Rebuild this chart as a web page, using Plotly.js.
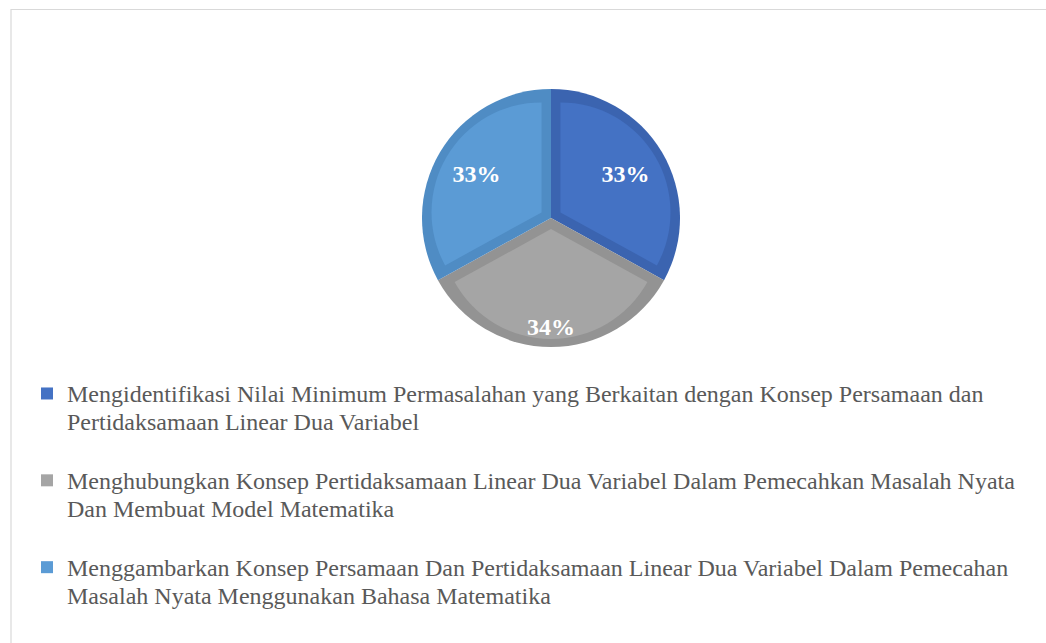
<!DOCTYPE html>
<html>
<head>
<meta charset="utf-8">
<script src="https://cdn.plot.ly/plotly-3.0.1.min.js"></script>
<style>html,body{margin:0;padding:0;background:#fff;}#chart{width:1046px;height:643px;}</style>
</head>
<body>
<div id="chart"></div>
<script>
const categoryLines = [
  ["Mengidentifikasi Nilai Minimum Permasalahan yang Berkaitan dengan Konsep Persamaan dan", "Pertidaksamaan Linear Dua Variabel"],
  ["Menghubungkan Konsep Pertidaksamaan Linear Dua Variabel Dalam Pemecahkan Masalah Nyata", "Dan Membuat Model Matematika"],
  ["Menggambarkan Konsep Persamaan Dan Pertidaksamaan Linear Dua Variabel Dalam Pemecahan", "Masalah Nyata Menggunakan Bahasa Matematika"]
];
const values = [33, 34, 33];
const fillColors = ["#4472C4", "#A5A5A5", "#5B9BD5"];
const edgeColors = ["#3B64B0", "#939393", "#4F8CC4"];

const categories = categoryLines.map(ls =>
  ls.map(l => "<span style='font-size:24px'>" + l + "</span>").join("<br>") + "<br> ");

const W = 1046, H = 643;
const cx = 551, cy = 218, R = 129;
function dom(r) {
  return {
    x: [(cx - r) / W, (cx + r) / W],
    y: [1 - (cy + r) / H, 1 - (cy - r) / H]
  };
}

const common = {
  type: 'pie',
  labels: categories,
  values: values,
  sort: false,
  direction: 'clockwise',
  rotation: 0,
  hoverinfo: 'none'
};

const clear = ['rgba(0,0,0,0)', 'rgba(0,0,0,0)', 'rgba(0,0,0,0)'];
const labelFont = {family: 'Liberation Serif, Times New Roman, serif', size: 24, color: '#FFFFFF', weight: 'bold'};

const outer = Object.assign({}, common, {
  domain: dom(R),
  marker: {colors: edgeColors, line: {width: 0}},
  textinfo: 'none',
  showlegend: false
});

const inner = Object.assign({}, common, {
  domain: dom(121),
  pull: [0.1, 0.1, 0.1],
  marker: {colors: fillColors, line: {width: 0}},
  textinfo: 'none',
  showlegend: true
});

// side labels
const textSides = Object.assign({}, common, {
  domain: dom(R),
  hole: 0.34,
  marker: {colors: clear, line: {width: 0}},
  textposition: 'inside',
  insidetextorientation: 'horizontal',
  texttemplate: ['%{percent:.0%}', '', '%{percent:.0%}'],
  insidetextfont: labelFont,
  showlegend: false
});

// bottom label
const textBottom = Object.assign({}, common, {
  domain: dom(R),
  hole: 0.72,
  marker: {colors: clear, line: {width: 0}},
  textposition: 'inside',
  insidetextorientation: 'horizontal',
  texttemplate: ['', '%{percent:.0%}', ''],
  insidetextfont: labelFont,
  showlegend: false
});

const layout = {
  width: W, height: H,
  margin: {l: 0, r: 0, t: 0, b: 0, autoexpand: false},
  paper_bgcolor: '#FFFFFF',
  showlegend: true,
  legend: {
    x: 27 / W, y: 1 - 373 / H,
    xanchor: 'left', yanchor: 'top',
    valign: 'top',
    orientation: 'v',
    font: {family: 'Liberation Serif, Times New Roman, serif', size: 21.5, color: '#595959'},
    bgcolor: 'rgba(0,0,0,0)',
    borderwidth: 0
  },
  shapes: [{
    type: 'rect', xref: 'paper', yref: 'paper',
    x0: 11 / W, x1: 1.05, y0: -0.05, y1: 1 - 9.5 / H,
    line: {color: '#D9D9D9', width: 1.2}, fillcolor: 'rgba(0,0,0,0)'
  }]
};

Plotly.newPlot('chart', [outer, inner, textSides, textBottom], layout, {displayModeBar: false, staticPlot: true});
</script>
</body>
</html>
